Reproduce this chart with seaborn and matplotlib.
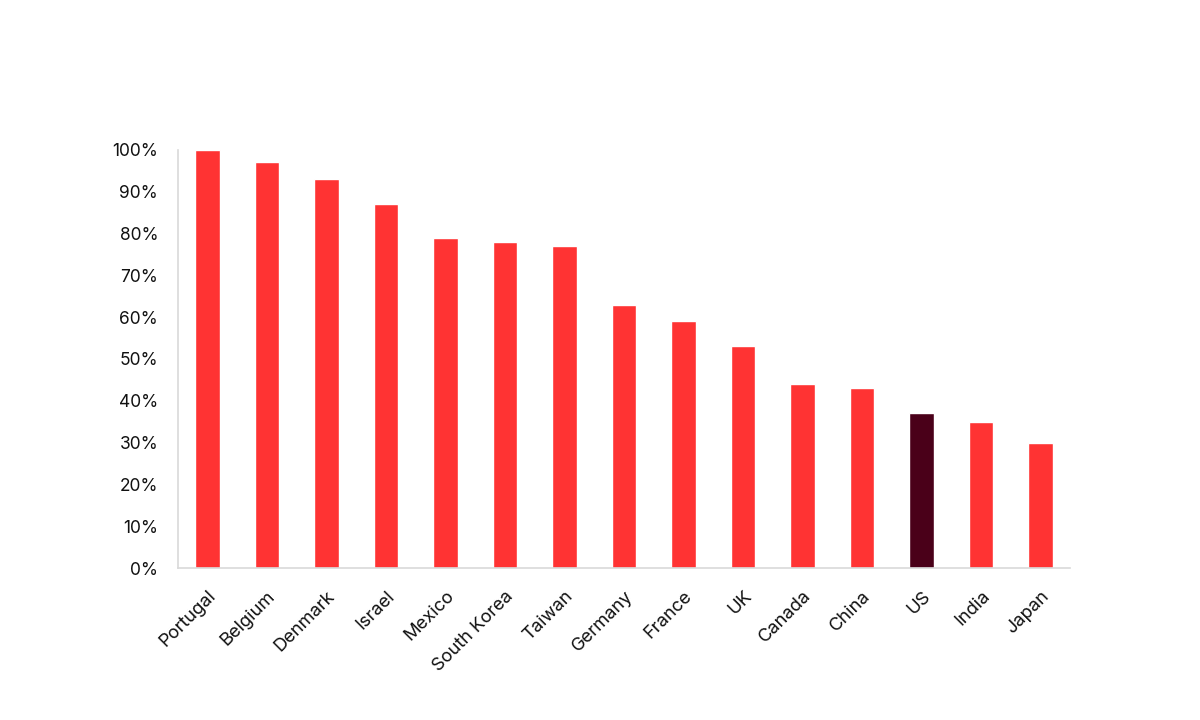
import matplotlib
matplotlib.use("Agg")
import matplotlib.pyplot as plt
import seaborn as sns
import pandas as pd
from matplotlib.ticker import PercentFormatter

# --- datos ---
paises = ["Portugal", "Belgium", "Denmark", "Israel", "Mexico", "South Korea", "Taiwan",
          "Germany", "France", "UK", "Canada", "China", "US", "India", "Japan"]
valores = [1.00, 0.97, 0.93, 0.87, 0.79, 0.78, 0.77, 0.63, 0.59, 0.53, 0.44, 0.43, 0.37, 0.35, 0.30]
destacado = "US"

rojo = "#FF3333"
granate = "#4A0019"
gris_eje = "#D9D9D9"

sns.set_style("white")
plt.rcParams["font.family"] = ["Inter", "DejaVu Sans"]

df = pd.DataFrame({"pais": paises, "valor": valores})
paleta = {p: (granate if p == destacado else rojo) for p in paises}

fig = plt.figure(figsize=(12, 7.2), dpi=100)
ax = fig.add_axes([0.148, 0.211, 0.744, 0.581])

sns.barplot(data=df, x="pais", y="valor", hue="pais", palette=paleta,
            width=0.41, legend=False, saturation=1, ax=ax)

ax.set_ylim(0, 1.0)
ax.set_xlim(-0.5, len(paises) - 0.5)
ax.set_yticks([i / 10 for i in range(11)])
ax.yaxis.set_major_formatter(PercentFormatter(1.0, decimals=0))
ax.set_xlabel("")
ax.set_ylabel("")

for lado in ["top", "right"]:
    ax.spines[lado].set_visible(False)
for lado in ["left", "bottom"]:
    ax.spines[lado].set_color(gris_eje)
    ax.spines[lado].set_linewidth(1.2)

ax.tick_params(axis="y", length=0, pad=14, labelsize=12.5, colors="#111111")
ax.tick_params(axis="x", length=0, pad=14, labelsize=13.2, colors="#111111")
plt.setp(ax.get_xticklabels(), rotation=45, ha="right", rotation_mode="anchor")

fig.savefig("out.png", dpi=100)
